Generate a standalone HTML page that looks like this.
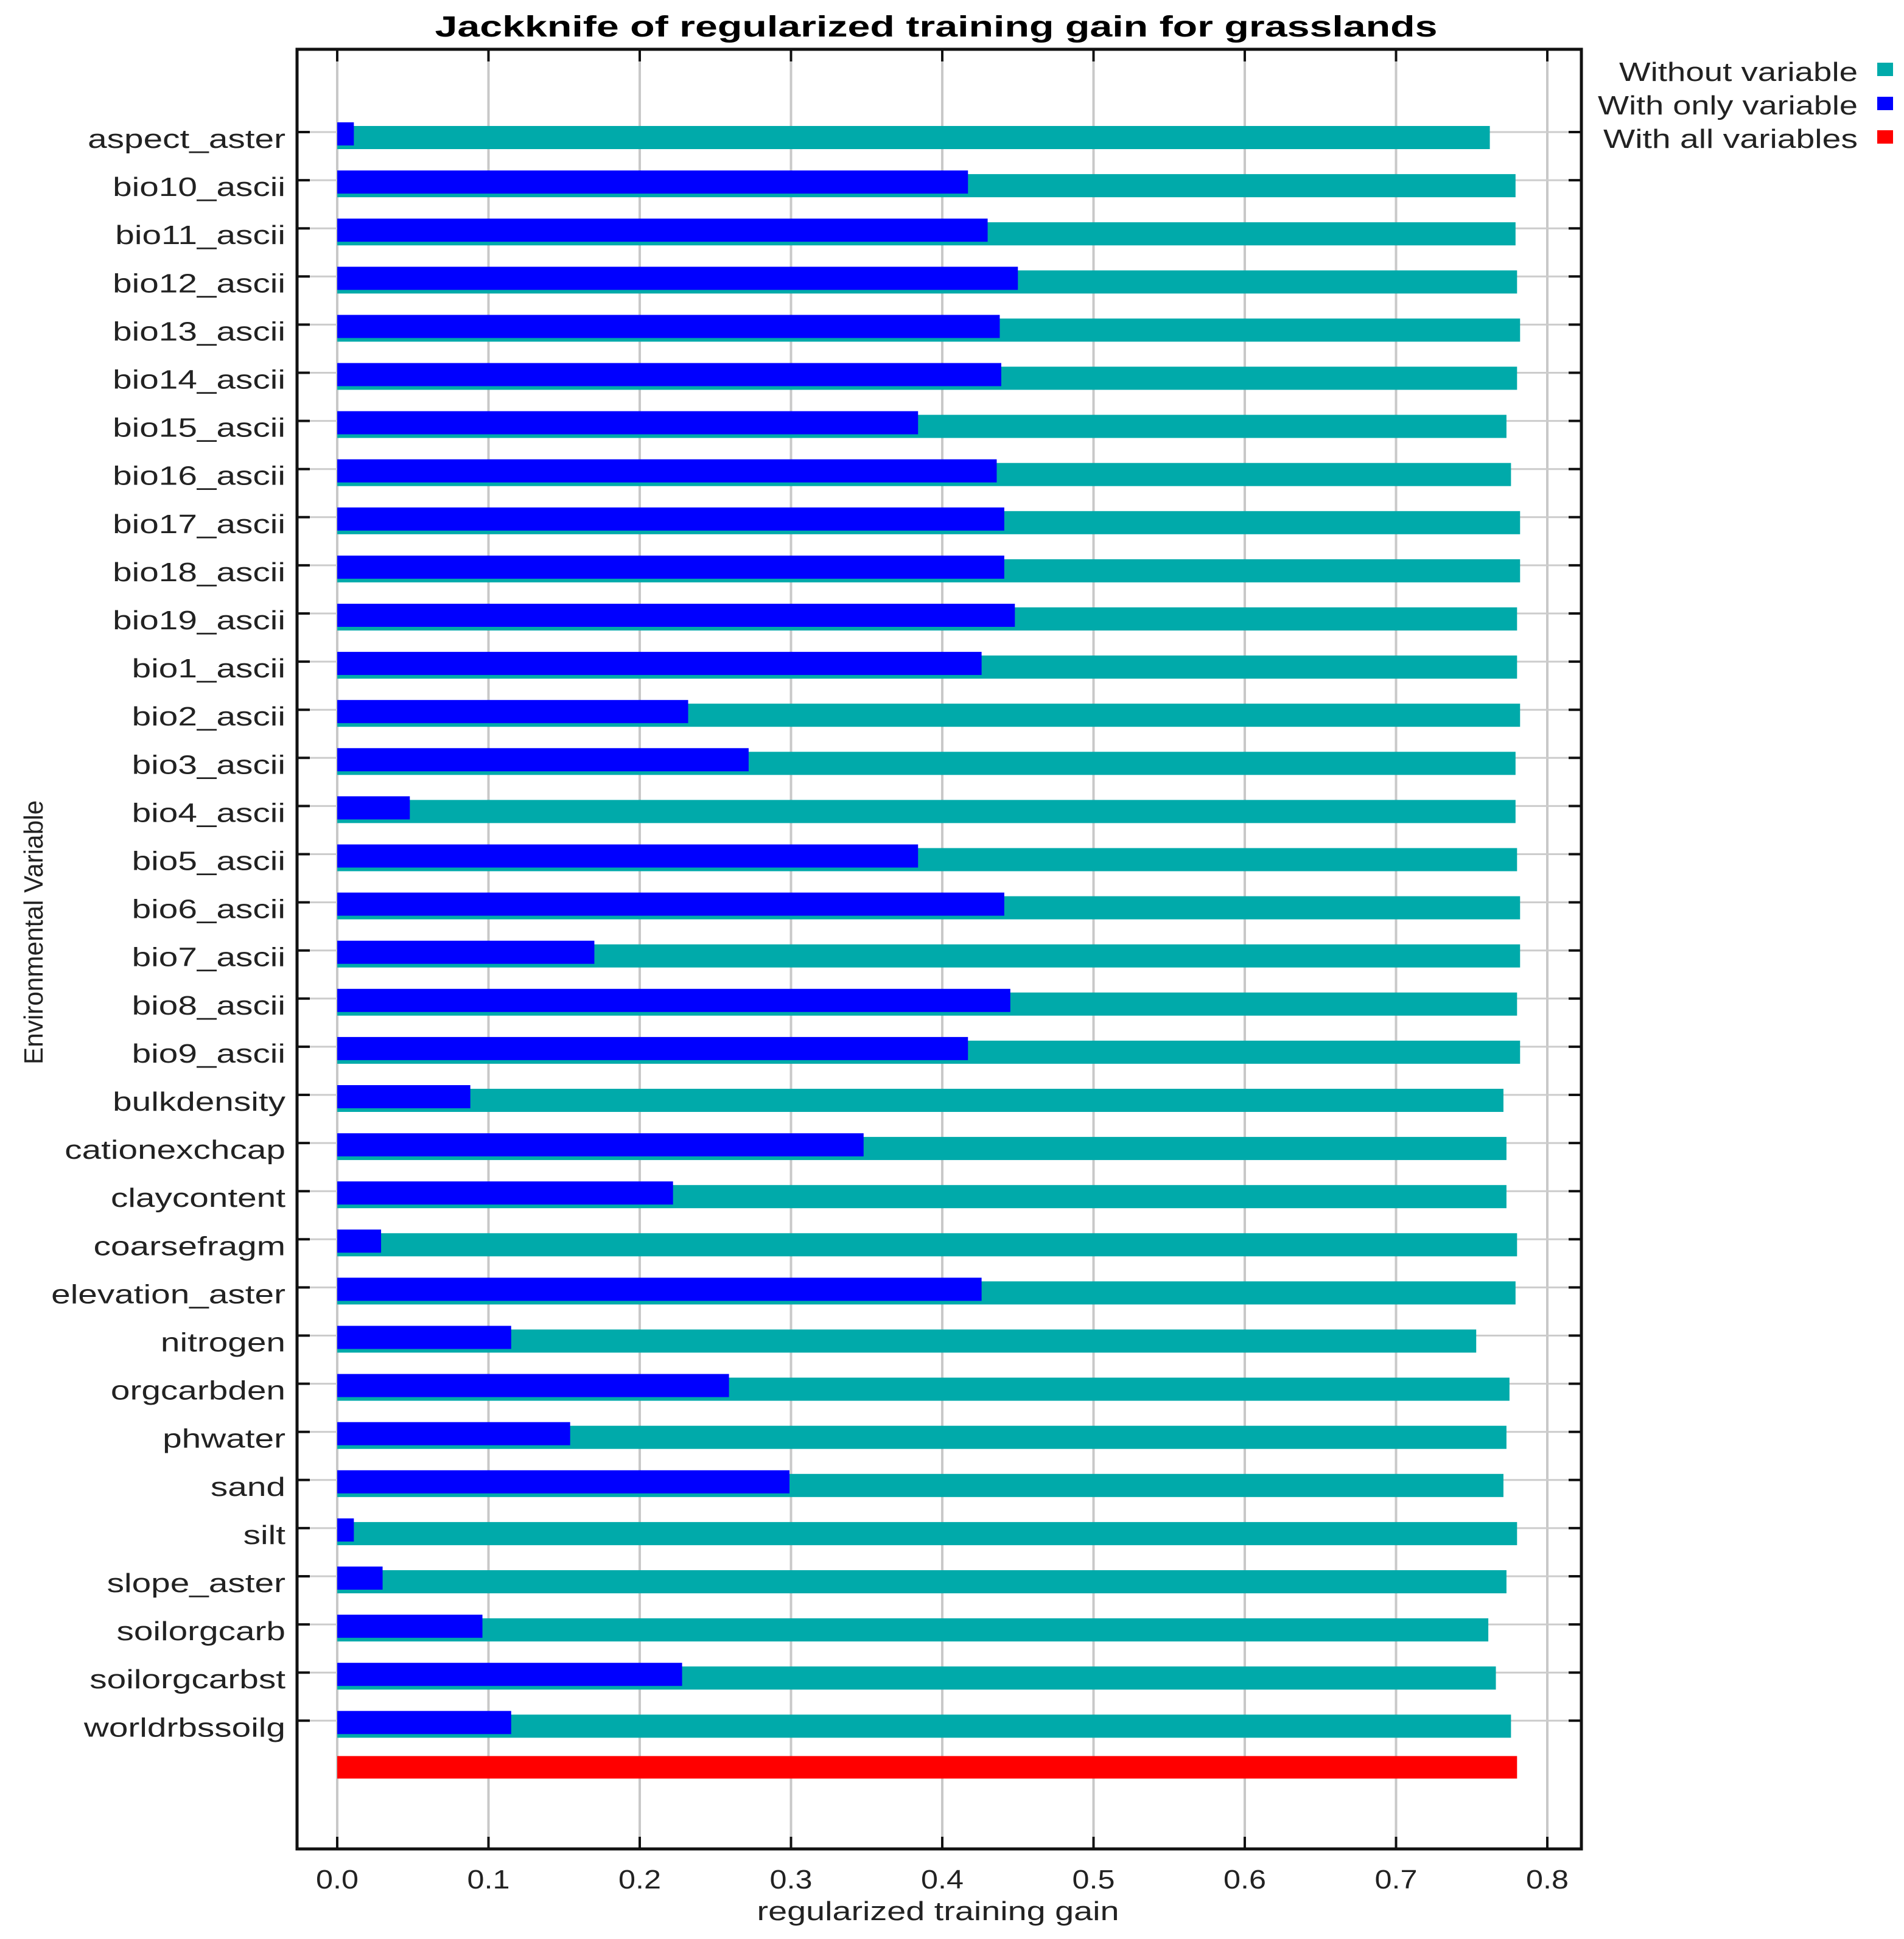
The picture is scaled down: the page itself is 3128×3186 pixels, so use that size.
<!DOCTYPE html>
<html><head><meta charset="utf-8"><style>
html,body{margin:0;padding:0;background:#fff;}
svg{display:block;font-family:"Liberation Sans",Arial,sans-serif;}
</style></head><body>
<svg id="chart" width="3128" height="3186" viewBox="0 0 3128 3186" xmlns="http://www.w3.org/2000/svg">
<rect x="0" y="0" width="3128" height="3186" fill="#fff"/>
<text x="1538" y="60" text-anchor="middle" font-size="48" font-weight="bold" textLength="1647" lengthAdjust="spacingAndGlyphs" fill="#000">Jackknife of regularized training gain for grasslands</text>
<g id="grid"></g>
<g id="bars"></g>
<g id="axes"></g>
<g id="labels"></g>
<text x="1541" y="3155" text-anchor="middle" font-size="44" textLength="595" lengthAdjust="spacingAndGlyphs" fill="#222">regularized training gain</text>
<text transform="translate(70,1532) rotate(-90)" text-anchor="middle" font-size="44" textLength="434" lengthAdjust="spacingAndGlyphs" fill="#222">Environmental Variable</text>
<g>
<text x="3052" y="133" text-anchor="end" font-size="44" textLength="392" lengthAdjust="spacingAndGlyphs" fill="#222">Without variable</text>
<rect x="3084" y="103" width="26" height="22" fill="#00aaaa"/>
<text x="3052" y="188" text-anchor="end" font-size="44" textLength="427" lengthAdjust="spacingAndGlyphs" fill="#222">With only variable</text>
<rect x="3084" y="159" width="26" height="22" fill="#0000ff"/>
<text x="3052" y="243" text-anchor="end" font-size="44" textLength="418" lengthAdjust="spacingAndGlyphs" fill="#222">With all variables</text>
<rect x="3084" y="214" width="26" height="22" fill="#ff0000"/>
</g>
</svg>
<script>
const categories = ["aspect_aster","bio10_ascii","bio11_ascii","bio12_ascii","bio13_ascii","bio14_ascii","bio15_ascii","bio16_ascii","bio17_ascii","bio18_ascii","bio19_ascii","bio1_ascii","bio2_ascii","bio3_ascii","bio4_ascii","bio5_ascii","bio6_ascii","bio7_ascii","bio8_ascii","bio9_ascii","bulkdensity","cationexchcap","claycontent","coarsefragm","elevation_aster","nitrogen","orgcarbden","phwater","sand","silt","slope_aster","soilorgcarb","soilorgcarbst","worldrbssoilg"];
const withoutVariable = [0.762,0.779,0.779,0.780,0.782,0.780,0.773,0.776,0.782,0.782,0.780,0.780,0.782,0.779,0.779,0.780,0.782,0.782,0.780,0.782,0.771,0.773,0.773,0.780,0.779,0.753,0.775,0.773,0.771,0.780,0.773,0.761,0.766,0.776];
const withOnlyVariable = [0.011,0.417,0.430,0.450,0.438,0.439,0.384,0.436,0.441,0.441,0.448,0.426,0.232,0.272,0.048,0.384,0.441,0.170,0.445,0.417,0.088,0.348,0.222,0.029,0.426,0.115,0.259,0.154,0.299,0.011,0.030,0.096,0.228,0.115];
const withAllVariables = 0.780;
const xTicks = [0,0.1,0.2,0.3,0.4,0.5,0.6,0.7,0.8];
const xTickLabels = ["0.0","0.1","0.2","0.3","0.4","0.5","0.6","0.7","0.8"];

const NS = "http://www.w3.org/2000/svg";
const L = 488, R = 2598, T = 81, B = 3038;
const X0 = 554, PER = 2485;
const Y0 = 217, STEP = 79.1;
function xs(v){ return X0 + v*PER; }
function ys(i){ return Y0 + i*STEP; }
function mk(tag, attrs, parent){
  const e = document.createElementNS(NS, tag);
  for (const k in attrs) e.setAttribute(k, attrs[k]);
  parent.appendChild(e); return e;
}
const grid = document.getElementById('grid');
const bars = document.getElementById('bars');
const axes = document.getElementById('axes');
const labels = document.getElementById('labels');

xTicks.forEach((t,i)=>{
  const x = xs(t);
  const g = mk('line',{x1:x,y1:T,x2:x,y2:B,stroke:'#c8c8c8','stroke-width':4},grid);
  
  
  const tt = mk('line',{x1:x,y1:T,x2:x,y2:T+20,stroke:'#111','stroke-width':4},axes);
  
  
  const tb = mk('line',{x1:x,y1:B-20,x2:x,y2:B,stroke:'#111','stroke-width':4},axes);
  
  
  const lb = mk('text',{x:x,y:3103,'text-anchor':'middle','font-size':44,textLength:70,lengthAdjust:'spacingAndGlyphs',fill:'#222'},labels);
  lb.textContent = xTickLabels[i];
  
  
});

categories.forEach((c,i)=>{
  const y = ys(i);
  const gl = mk('line',{x1:L,y1:y,x2:R,y2:y,stroke:'#cccccc','stroke-width':3},grid);
  
  
  const tl = mk('line',{x1:L,y1:y,x2:L+21,y2:y,stroke:'#111','stroke-width':4},axes);
  
  
  const tr = mk('line',{x1:R-21,y1:y,x2:R,y2:y,stroke:'#111','stroke-width':4},axes);
  
  
  const cb = mk('rect',{x:X0,y:y-10,width:xs(withoutVariable[i])-X0,height:38,fill:'#00aaaa'},bars);
  
  
  const bb = mk('rect',{x:X0,y:y-16,width:xs(withOnlyVariable[i])-X0,height:38,fill:'#0000ff'},bars);
  
  
  const t = mk('text',{x:469/1.29,y:y+26,'text-anchor':'end','font-size':44,fill:'#222',transform:'scale(1.29,1)'},labels);
  t.textContent = c;
  
  
});
const ry = ys(categories.length);
const rb = mk('rect',{x:X0,y:ry-21,width:xs(withAllVariables)-X0,height:37,fill:'#ff0000'},bars);



const frame = mk('rect',{x:L,y:T,width:R-L,height:B-T,fill:'none',stroke:'#111','stroke-width':5},axes);


</script>
</body></html>
